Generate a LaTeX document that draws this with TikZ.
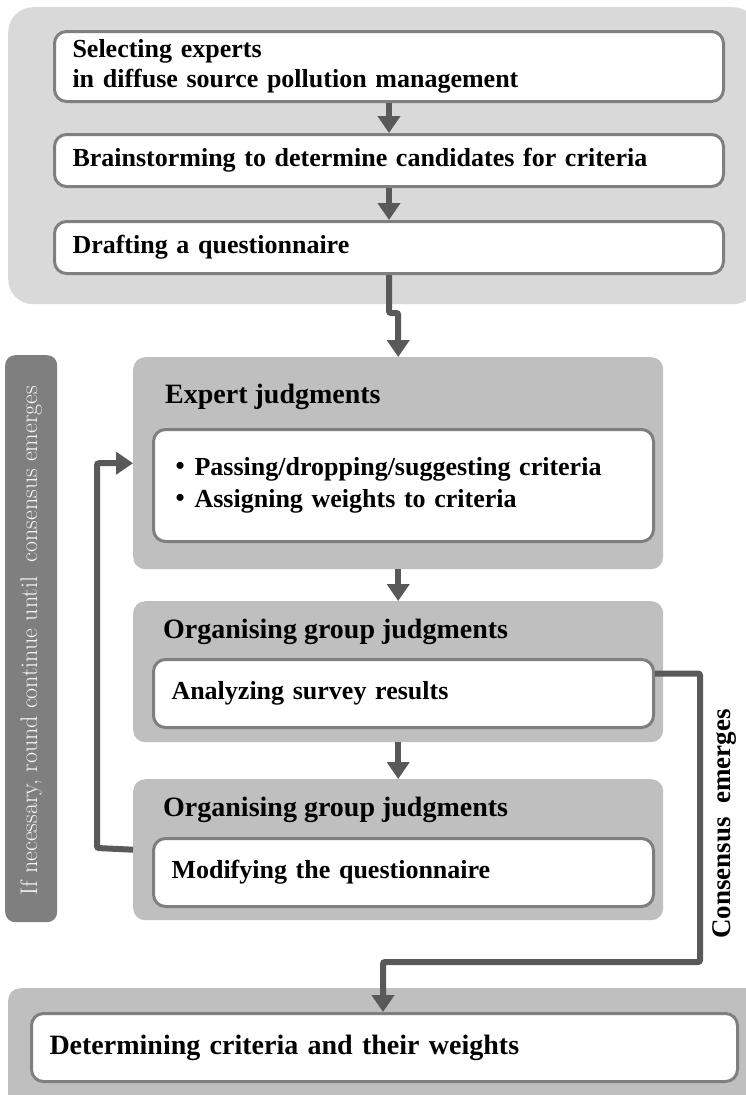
\documentclass[tikz,border=0pt]{standalone}
\usepackage{fontspec}
\usetikzlibrary{arrows.meta}
\newfontfamily\tnr{Liberation Serif}
\definecolor{panelA}{HTML}{D9D9D9}
\definecolor{panelB}{HTML}{BFBFBF}
\definecolor{edgeG}{HTML}{7F7F7F}
\definecolor{arrG}{HTML}{595959}
\definecolor{barG}{HTML}{7F7F7F}
\definecolor{barT}{HTML}{F7F7F7}
\tikzset{
  x=1pt, y=-1pt,
  panelbox/.style={fill=#1, draw=none, rounded corners=12pt, anchor=north west, inner sep=0pt},
  wbox/.style={fill=white, draw=edgeG, line width=3pt, rounded corners=12pt, anchor=north west,
    inner xsep=18pt, inner ysep=0pt, align=left, font=\tnr\bfseries\fontsize{26}{30}\selectfont},
  ttl/.style={anchor=west, inner sep=0pt, font=\tnr\bfseries\fontsize{28}{32}\selectfont},
  arr/.style={draw=arrG, line width=6pt, -{Triangle[width=22pt,length=17pt]}},
}
\begin{document}
\begin{tikzpicture}
\useasboundingbox (0,0) rectangle (745,1095);
% top panel
\node[panelbox=panelA, rounded corners=25pt, minimum width=750pt, minimum height=297pt] (top) at (8,7) {};
\node[wbox, minimum width=669pt, minimum height=70pt, text width=633pt] (b1) at (53,30)
  {Selecting experts\\in diffuse source pollution management};
\node[wbox, minimum width=669pt, minimum height=52pt, text width=633pt] (b2) at (53,133)
  {Brainstorming to determine candidates for criteria};
\node[wbox, minimum width=669pt, minimum height=52pt, text width=633pt] (b3) at (53,220)
  {Drafting a questionnaire};
\draw[arr] (b1.south) -- (b2.north);
\draw[arr] (b2.south) -- (b3.north);
% left bar
\node[fill=barG, rounded corners=10pt, minimum width=52pt, minimum height=567pt, anchor=north west, inner sep=0pt] (bar) at (5,355) {};
\node[rotate=90, text=barT, font=\fontsize{24}{28}\selectfont, inner sep=0pt] (bartxt) at ([yshift=-2pt]bar.center)
  {If necessary, round continue until\ \ consensus emerges};
% panel 1
\node[panelbox=panelB, minimum width=530pt, minimum height=212pt] (p1) at (133,357) {};
\node[ttl] (t1) at (165,397) {Expert judgments};
\node[wbox, minimum width=500pt, minimum height=112pt, text width=464pt] (ib1) at (152,428)
  {\hspace{4pt}\raisebox{1pt}{\textbullet}\hspace{10pt}Passing/dropping/suggesting criteria\\[2pt]\hspace{4pt}\raisebox{1pt}{\textbullet}\hspace{10pt}Assigning weights to criteria};
% panel 2
\node[panelbox=panelB, minimum width=530pt, minimum height=141pt] (p2) at (133,601) {};
\node[ttl] (t2) at (163,632) {Organising group judgments};
\node[wbox, minimum width=500pt, minimum height=68pt, text width=464pt] (ib2) at (152,658)
  {Analyzing survey results};
% panel 3
\node[panelbox=panelB, minimum width=530pt, minimum height=141pt] (p3) at (133,779) {};
\node[ttl] (t3) at (163,810) {Organising group judgments};
\node[wbox, minimum width=500pt, minimum height=68pt, text width=464pt] (ib3) at (152,837)
  {Modifying the questionnaire};
% bottom panel
\node[panelbox=panelB, minimum width=760pt, minimum height=130pt] (pb) at (8,988) {};
\node[wbox, minimum width=706pt, minimum height=68pt, text width=670pt, font=\tnr\bfseries\fontsize{28}{32}\selectfont] (ibb) at (30,1012)
  {Determining criteria and their weights};
% connectors
\coordinate (j1) at (0,313);
\draw[arr, rounded corners=2pt] (b3.south) -- (b3.south |- j1) -| (p1.north);
\draw[arr] (p1.south) -- (p2.north);
\draw[arr] (p2.south) -- (p3.north);
\coordinate (lp) at (97,848);
\draw[arr, rounded corners=2pt] (p3.west) -- (lp) |- (p1.west);
\coordinate (c1) at (700,962);
\coordinate (c2) at (383,962);
\draw[arr, rounded corners=2pt] ([yshift=20pt]ib2.east) -| (c1) -- (c2) -- (c2 |- ibb.north);
\node[rotate=90, font=\tnr\bfseries\fontsize{27}{30}\selectfont, inner sep=0pt] (cons) at (725,824) {Consensus\ \ emerges};
\end{tikzpicture}
\end{document}
